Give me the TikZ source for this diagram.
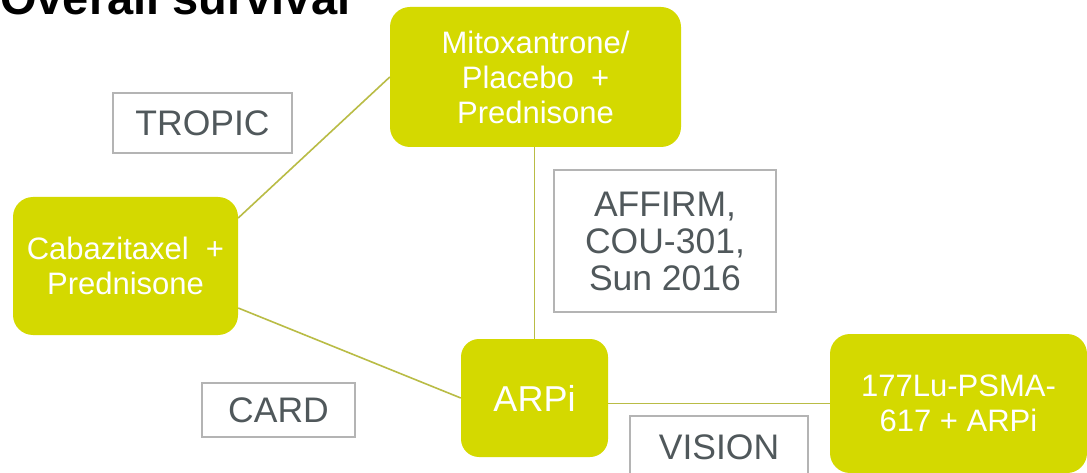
\documentclass[tikz,border=0pt]{standalone}
\usepackage{fontspec}
\setmainfont{Liberation Sans}
\usetikzlibrary{calc}
\definecolor{boxgreen}{HTML}{D4D900}
\definecolor{linegreen}{HTML}{B9BC45}
\definecolor{labelgray}{HTML}{50585B}
\definecolor{bordergray}{HTML}{B4B4B4}
\tikzset{
  drug/.style={fill=boxgreen, draw=none, rounded corners=20pt, text=white, align=center,
    inner sep=0pt, font=\fontsize{31}{35}\selectfont},
  trial/.style={fill=white, draw=bordergray, line width=1.2pt, text=labelgray, align=center,
    inner sep=0pt, font=\fontsize{35.5}{37}\selectfont},
  link/.style={draw=linegreen, line width=1.6pt}
}
\begin{document}
\begin{tikzpicture}[x=1pt,y=-1pt]
\clip (0,0) rectangle (1087,473);
\fill[white] (0,0) rectangle (1087,473);
% title
\node[anchor=base west, inner sep=0pt, font=\fontsize{47}{50}\selectfont\bfseries] (title) at (0,15) {Overall survival};
% drug boxes
\node[drug, minimum width=291pt, minimum height=140pt] (mitox) at (535.5,77) {Mitoxantrone/\\Placebo\ \ +\\Prednisone};
\node[drug, minimum width=225pt, minimum height=138pt] (cabaz) at (125.5,266) {Cabazitaxel\ \ +\\Prednisone};
\node[drug, rounded corners=18pt, minimum width=147pt, minimum height=118pt, font=\fontsize{36}{40}\selectfont] (arpi) at (534.5,398) {ARPi};
\node[drug, minimum width=257pt, minimum height=139pt] (lu) at (958.5,403.5) {177Lu-PSMA-\\617 + ARPi};
% connectors
\draw[link] ($(cabaz.east)+(0,-48)$) -- (mitox.west);
\draw[link] ($(cabaz.east)+(0,42)$) -- (arpi.west);
\draw[link] (arpi.north) -- (arpi.north |- mitox.south);
\draw[link] (lu.west) -- (lu.west -| arpi.east);
% trial labels
\node[trial, minimum width=179pt, minimum height=60pt] (tropic) at (202.5,123) {TROPIC};
\node[trial, minimum width=222pt, minimum height=142pt] (affirm) at (665,241) {AFFIRM,\\COU-301,\\Sun 2016};
\node[trial, minimum width=153pt, minimum height=54pt] (card) at (278.5,410) {CARD};
\node[trial, minimum width=178pt, minimum height=62pt] (vision) at (719,447) {VISION};
\end{tikzpicture}
\end{document}
